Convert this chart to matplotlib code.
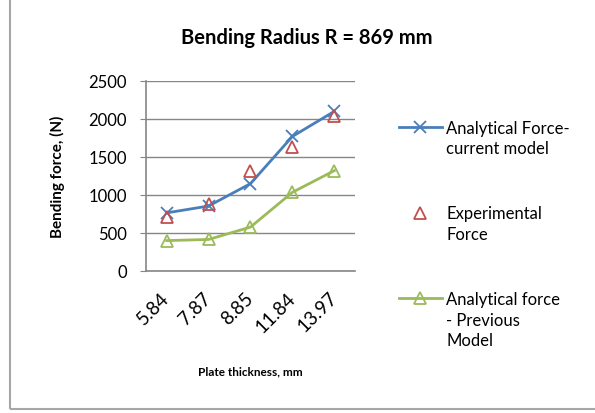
import matplotlib.pyplot as plt
from matplotlib.legend_handler import HandlerLine2D
from matplotlib.patches import Rectangle
from matplotlib.transforms import ScaledTranslation

plt.rcParams['font.family'] = ['Lato', 'DejaVu Sans']

# data
thickness = ["5.84", "7.87", "8.85", "11.84", "13.97"]
current_model = [765, 855, 1150, 1770, 2100]
experimental = [705, 885, 1320, 1630, 2035]
previous_model = [400, 415, 578, 1035, 1320]


# legend handle sits on the first line of a multi-line label
class TopLine(HandlerLine2D):
    def __init__(self, shift, **kw):
        super().__init__(**kw)
        self.shift = shift

    def create_artists(self, legend, orig_handle, xdescent, ydescent,
                       width, height, fontsize, trans):
        return super().create_artists(legend, orig_handle, xdescent,
                                      ydescent - 2 * self.shift, width, height,
                                      fontsize, trans)


fig = plt.figure(figsize=(5.95, 4.14), dpi=100)
fig.patches.append(Rectangle((10 / 595, 4 / 414), 1.2, 1.2, transform=fig.transFigure,
                             fill=False, edgecolor='#a6a6a6', lw=1.5))
ax = fig.add_axes([0.245, 0.343, 0.352, 0.459])

x = range(len(thickness))
l1, = ax.plot(x, current_model, color='#4a7ebb', lw=2, marker='x', ms=9, mew=1.3,
              label='Analytical Force-\ncurrent model')
l2, = ax.plot(x, experimental, ls='none', marker='^', ms=9, mfc='none', mec='#c0504d',
              mew=1.3, label='Experimental\nForce')
l3, = ax.plot(x, previous_model, color='#9bbb59', lw=2, marker='^', ms=9, mfc='none',
              mec='#9bbb59', mew=1.3, label='Analytical force\n- Previous\nModel')

ax.set_xlim(-0.5, 4.5)
ax.set_ylim(0, 2500)
ax.set_yticks(range(0, 2501, 500))
ax.set_xticks(list(x))
ax.set_xticklabels(thickness, rotation=45, fontsize=13.5, ha='right', va='center',
                   rotation_mode='anchor')
shift = ScaledTranslation(9 / 72, 0, fig.dpi_scale_trans)
for lbl in ax.get_xticklabels():
    lbl.set_transform(lbl.get_transform() + shift)
ax.tick_params(axis='y', labelsize=12, length=4.5, color='#868686', pad=9)
ax.tick_params(axis='x', length=0, pad=17)
ax.grid(axis='y', color='#868686', lw=1)
ax.set_axisbelow(True)
for s in ['top', 'right']:
    ax.spines[s].set_visible(False)
for s in ['left', 'bottom']:
    ax.spines[s].set_color('#868686')
    ax.spines[s].set_linewidth(1.2)

ax.set_ylabel('Bending force, (N)', fontsize=11, fontweight='bold', labelpad=17)
ax.set_xlabel('Plate thickness, mm', fontsize=8.5, fontweight='bold', labelpad=22)
fig.text(0.516, 0.908, 'Bending Radius R = 869 mm', ha='center', va='center',
         fontsize=14.5, fontweight='bold')

leg = fig.legend(loc='upper left', bbox_to_anchor=(0.645, 0.745), frameon=False,
                 fontsize=12, handlelength=2.6, labelspacing=2.95, handletextpad=0.25,
                 handler_map={l1: TopLine(8), l2: TopLine(8), l3: TopLine(16)})
for t in leg.get_texts():
    t.set_linespacing(1.35)

fig.savefig('out.png', dpi=100)
